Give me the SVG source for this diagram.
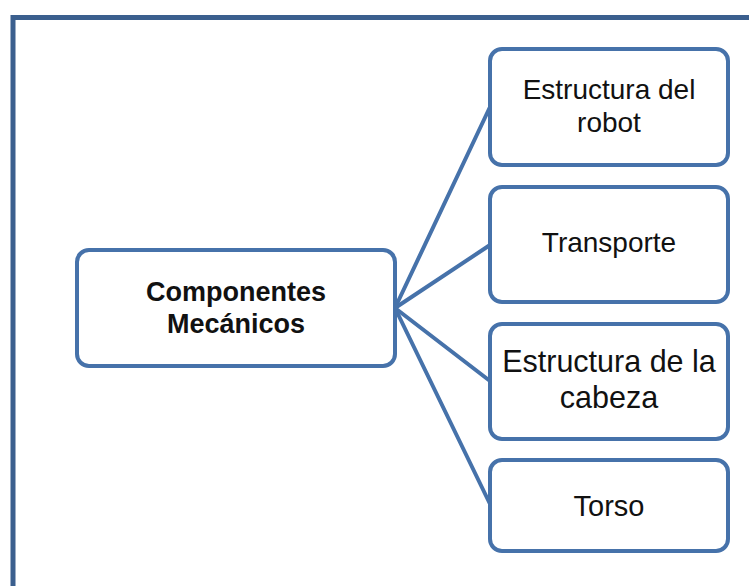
<svg xmlns="http://www.w3.org/2000/svg" width="749" height="586" viewBox="0 0 749 586">
  <style>
    .frame { fill: none; stroke: #3B5F8E; stroke-width: 5; }
    .box { fill: #ffffff; stroke: #4672AA; stroke-width: 4; }
    .conn { fill: none; stroke: #4672AA; stroke-width: 4; stroke-linecap: round; }
    .t { font-family: "Liberation Sans", Arial, sans-serif; fill: #111111; text-anchor: middle; }
    .b { font-weight: bold; }
  </style>
  <rect width="749" height="586" fill="#ffffff"/>
  <rect class="frame" x="13" y="17.5" width="760" height="600"/>
  <g id="connectors">
    <line class="conn" x1="395" y1="308" x2="490" y2="107"/>
    <line class="conn" x1="395" y1="308" x2="490" y2="245"/>
    <line class="conn" x1="395" y1="308" x2="490" y2="381"/>
    <line class="conn" x1="395" y1="308" x2="490" y2="504"/>
  </g>
  <g id="componentes">
    <rect class="box" x="77" y="250" width="318" height="116" rx="12"/>
    <text class="t b" x="236" y="301" font-size="27">Componentes</text>
    <text class="t b" x="236" y="333" font-size="27">Mecánicos</text>
  </g>
  <g id="estructura-robot">
    <rect class="box" x="490" y="49" width="238" height="116" rx="12"/>
    <text class="t" x="609" y="99" font-size="28">Estructura del</text>
    <text class="t" x="609" y="132" font-size="28">robot</text>
  </g>
  <g id="transporte">
    <rect class="box" x="490" y="187" width="238" height="115" rx="12"/>
    <text class="t" x="609" y="252" font-size="28">Transporte</text>
  </g>
  <g id="estructura-cabeza">
    <rect class="box" x="490" y="324" width="238" height="115" rx="12"/>
    <text class="t" x="609" y="372" font-size="30.5">Estructura de la</text>
    <text class="t" x="609" y="408" font-size="30.5">cabeza</text>
  </g>
  <g id="torso">
    <rect class="box" x="490" y="460" width="238" height="91" rx="12"/>
    <text class="t" x="609" y="516" font-size="29">Torso</text>
  </g>
</svg>
